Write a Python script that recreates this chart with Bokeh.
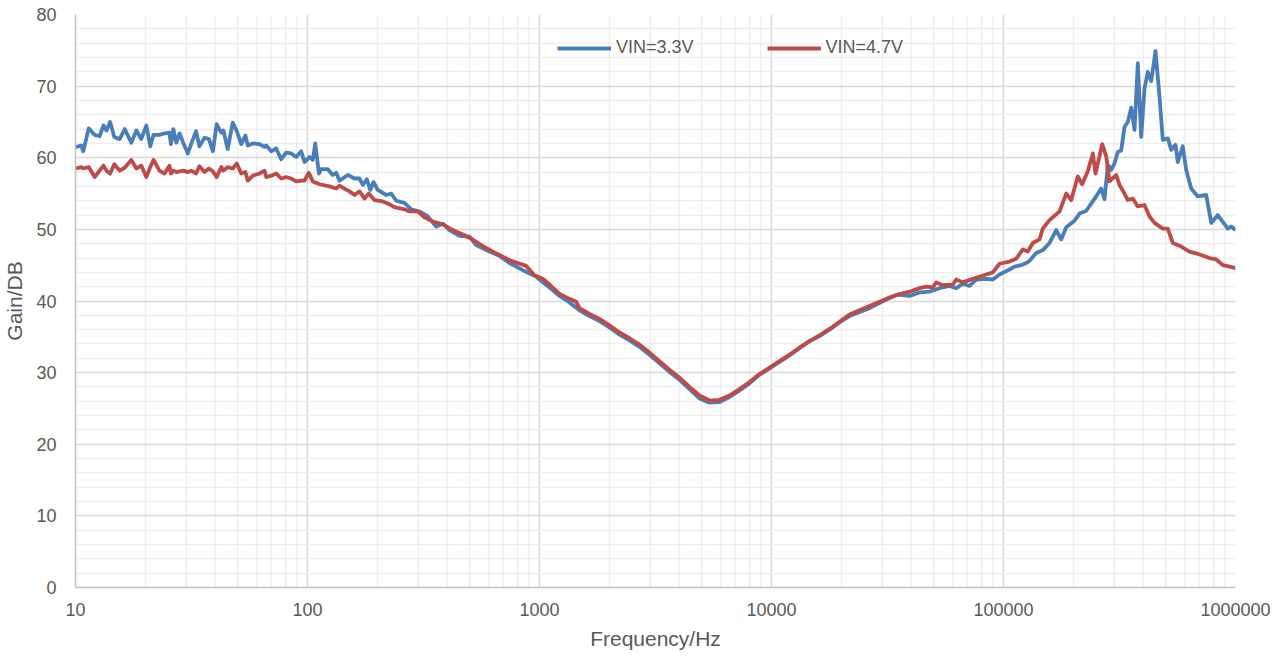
from bokeh.plotting import figure
from bokeh.models import FixedTicker, Legend, LegendItem, PrintfTickFormatter, Range1d
from bokeh.embed import file_html
from bokeh.resources import INLINE

# ---- data ----
freq_33 = [10, 10.6, 10.8, 11.4, 12.1, 12.7, 13.2, 13.6, 14.1, 14.7,
           15.5, 16.3, 17.4, 18.3, 19.2, 20.2, 21.0, 21.7, 23.0, 24.2,
           25.4, 25.8, 26.4, 27.2, 28.1, 29.2, 30.5, 31.5, 33.1, 34.2,
           36.0, 37.6, 39.1, 40.6, 42.5, 43.4, 45.3, 47.6, 49.6, 51.8,
           54.0, 55.3, 58.1, 62.1, 65.3, 66.4, 69.8, 73.3, 77.0, 80.9,
           85.1, 89.4, 93.9, 97.0,
           102, 105.4, 108, 112, 114.6, 122.4, 128.5, 133, 137.4, 149.2,
           159.5, 167.6, 173.2, 180.2, 186.4, 192.6, 200.9, 218.4, 229.5, 241.2,
           261.8, 279.9, 304, 330, 358.7, 383, 409.3, 451.9, 499.4, 533.3,
           608.8, 672.4, 742.5, 847.2, 967.9, 1000, 1104, 1220, 1347, 1487,
           1643, 1814, 2003, 2212, 2443, 2698, 2979, 3290, 3634, 4013,
           4432, 4894, 5405, 5969, 6592, 7280, 8039, 8878, 9804, 10827,
           11957, 13204, 14582, 16104, 17783, 19639, 21689, 26451, 31716, 35030,
           39339, 43447, 47973, 52978, 58508, 62530, 66780, 71350, 76260, 84220,
           89920, 96120, 106150, 111540, 119220, 125250, 129450, 138300, 147700, 157900,
           168700, 177300, 186400, 202300, 212600, 227300, 238800, 250900, 263600, 272500,
           281600, 291200, 300900, 310900, 321600, 332300, 343400, 355200, 367000, 379300,
           392200, 405300, 418800, 433200, 452100, 470400, 486000, 510800, 528200, 551300,
           564000, 592600, 613100, 644200, 688100, 747600, 786000, 838900, 926400, 958300,
           1000000]
gain_33 = [61.5, 61.7, 60.9, 64.1, 63.2, 63.0, 64.5, 63.8, 65.0, 62.9,
           62.6, 64.0, 62.1, 63.8, 62.6, 64.5, 61.6, 63.2, 63.2, 63.4,
           63.5, 61.9, 64.0, 62.1, 63.4, 62.0, 60.6, 61.9, 63.7, 61.6,
           62.8, 62.6, 60.9, 64.7, 63.5, 63.8, 61.2, 64.9, 63.7, 61.9,
           63.1, 61.7, 62.0, 61.9, 61.5, 61.7, 60.9, 61.3, 59.8, 60.7,
           60.6, 60.1, 60.9, 59.4,
           60.1, 59.7, 62.0, 57.8, 58.4, 58.4, 57.6, 57.9, 56.8, 57.6,
           57.1, 57.1, 56.2, 57.0, 55.5, 56.6, 55.5, 54.8, 55.0, 54.0,
           53.7, 52.8, 52.5, 51.8, 50.4, 50.8, 49.9, 49.1, 49.0, 47.8,
           46.9, 46.3, 45.3, 44.3, 43.4, 43.0, 41.9, 40.7, 39.8, 38.7,
           37.9, 37.2, 36.3, 35.3, 34.5, 33.6, 32.5, 31.3, 30.1, 29.0,
           27.7, 26.4, 25.8, 25.9, 26.6, 27.5, 28.5, 29.7, 30.6, 31.5,
           32.4, 33.4, 34.4, 35.1, 36.0, 37.0, 37.9, 39.0, 40.3, 40.9,
           40.7, 41.2, 41.3, 41.8, 42.1, 41.8, 42.4, 42.1, 43.0, 43.1,
           43.0, 43.7, 44.4, 44.8, 45.0, 45.3, 45.6, 46.7, 47.1, 48.1,
           49.9, 48.6, 50.3, 51.2, 52.2, 52.6, 53.6, 54.6, 55.7, 54.2,
           59.0, 58.3, 59.2, 60.8, 61.0, 64.3, 65.0, 67.0, 63.9, 73.2,
           62.9, 69.7, 72.0, 70.7, 74.9, 68.5, 62.5, 62.7, 61.1, 61.8,
           59.4, 61.6, 58.3, 55.7, 54.6, 54.8, 50.9, 52.0, 50.1, 50.4,
           49.9]

freq_47 = [10, 10.6, 10.8, 11.4, 12.1, 12.7, 13.2, 13.6, 14.1, 14.7,
           15.5, 16.3, 17.4, 18.3, 19.2, 20.2, 21.0, 21.7, 23.0, 24.2,
           25.4, 25.8, 26.4, 27.2, 28.1, 29.2, 30.5, 31.5, 33.1, 34.2,
           36.0, 37.6, 39.1, 40.6, 42.5, 43.4, 45.3, 47.6, 49.6, 51.8,
           54.0, 55.3, 58.1, 62.1, 65.3, 66.4, 69.8, 73.3, 77.0, 80.9,
           85.1, 89.4, 93.9, 97.0,
           101.3, 105.4, 112.7, 124.4, 133, 137.4, 144.4, 151.7, 159.5, 167.6,
           176.1, 183.8, 194.5, 211.2, 225.7, 237.1, 261.8, 275.3, 298.9, 319.4,
           346.9, 383, 422.9, 467, 507.8, 560.7, 629.2, 694.8, 755.1, 876.2,
           951.5, 1033, 1104, 1220, 1347, 1439, 1487, 1643, 1814, 2003,
           2212, 2443, 2698, 2979, 3290, 3634, 4013, 4432, 4894, 5405,
           5969, 6592, 7280, 8039, 8878, 9804, 10827, 11957, 13204, 14582,
           16104, 17783, 19639, 21689, 26451, 31716, 35030, 39339, 43447, 46440,
           49590, 51280, 54760, 60470, 62530, 66780, 73740, 84220, 89920, 96120,
           106150, 113420, 121130, 127260, 133770, 142950, 147700, 157900, 174300, 186400,
           195800, 209100, 218300, 230900, 242700, 249300, 266300, 277200, 286300, 305900,
           316200, 332300, 343400, 360800, 379300, 405300, 426000, 447700, 486000, 510800,
           536700, 583300, 633400, 699600, 772600, 825700, 881800, 942200, 1000000]
gain_47 = [58.5, 58.7, 58.5, 58.7, 57.3, 58.2, 58.9, 58.2, 57.8, 59.1,
           58.2, 58.6, 59.7, 58.5, 58.9, 57.3, 58.7, 59.7, 58.2, 57.8,
           58.9, 57.8, 58.2, 58.0, 58.1, 58.2, 58.0, 58.2, 57.8, 58.8,
           58.0, 58.5, 58.1, 57.3, 58.7, 58.2, 58.7, 58.5, 59.2, 57.8,
           58.0, 56.8, 57.5, 57.8, 58.2, 57.3, 57.5, 57.8, 57.1, 57.3,
           57.1, 56.7, 56.8, 56.8,
           57.9, 56.7, 56.3, 56.0, 55.7, 56.1, 55.7, 55.3, 54.8, 55.3,
           54.3, 55.0, 54.1, 53.9, 53.5, 53.1, 52.8, 52.5, 52.5, 51.7,
           51.1, 50.7, 49.9, 49.3, 48.7, 47.8, 46.9, 46.2, 45.6, 44.9,
           43.6, 43.1, 42.3, 41.0, 40.3, 39.9, 39.0, 38.2, 37.5, 36.6,
           35.6, 34.8, 33.9, 32.8, 31.6, 30.4, 29.3, 28.0, 26.8, 26.1,
           26.2, 26.8, 27.7, 28.7, 29.8, 30.7, 31.6, 32.5, 33.5, 34.4,
           35.2, 36.1, 37.1, 38.1, 39.3, 40.4, 40.9, 41.3, 41.8, 42.0,
           41.9, 42.6, 42.2, 42.3, 43.0, 42.6, 43.1, 43.7, 44.0, 45.2,
           45.5, 45.9, 47.2, 46.9, 48.1, 48.6, 50.1, 51.3, 52.5, 55.0,
           54.1, 57.4, 56.3, 58.1, 60.6, 57.8, 61.9, 60.2, 56.7, 57.6,
           56.2, 55.0, 54.1, 54.3, 53.2, 53.4, 51.8, 50.9, 50.1, 50.1,
           48.1, 47.6, 46.9, 46.5, 46.0, 45.8, 45.0, 44.8, 44.6]

series_labels = ["VIN=3.3V", "VIN=4.7V"]
x_ticks = [10, 100, 1000, 10000, 100000, 1000000]
y_ticks = [0, 10, 20, 30, 40, 50, 60, 70, 80]
x_minor = [k * d for d in [10, 100, 1000, 10000, 100000] for k in range(2, 10)]
y_minor = [v for v in range(0, 81, 2) if v % 10 != 0]

FONT = "Liberation Sans"
TEXT = "#595959"
BLUE = "#4a7ebb"
RED = "#be4b48"

p = figure(x_axis_type="log", x_range=Range1d(10, 1000000), y_range=Range1d(0, 80),
           frame_width=1160, frame_height=573,
           min_border_left=75, min_border_top=14, min_border_right=40, min_border_bottom=10,
           output_backend="svg", toolbar_location=None, background_fill_color="white",
           border_fill_color="white")
p.outline_line_color = None

p.xaxis.ticker = FixedTicker(ticks=x_ticks, minor_ticks=x_minor)
p.yaxis.ticker = FixedTicker(ticks=y_ticks, minor_ticks=y_minor)
p.xaxis.formatter = PrintfTickFormatter(format="%d")

for ax in (p.xaxis[0], p.yaxis[0]):
    ax.axis_line_color = "#bfbfbf"
    ax.axis_line_width = 1.5
    ax.major_tick_line_color = None
    ax.minor_tick_line_color = None
    ax.major_label_text_font = FONT
    ax.major_label_text_font_size = "18px"
    ax.major_label_text_color = TEXT
    ax.axis_label_text_font = FONT
    ax.axis_label_text_font_size = "21px"
    ax.axis_label_text_font_style = "normal"
    ax.axis_label_text_color = TEXT

p.xaxis.axis_label = "Frequency/Hz"
p.yaxis.axis_label = "Gain/DB"
p.xaxis.major_label_standoff = 9
p.xaxis.axis_label_standoff = 8
p.yaxis.major_label_standoff = 13
p.yaxis.axis_label_standoff = 7

for g in (p.xgrid[0], p.ygrid[0]):
    g.grid_line_color = "#d9d9d9"
    g.grid_line_width = 1.5
    g.minor_grid_line_color = "#eeeeee"
    g.minor_grid_line_width = 1.5

r1 = p.line(freq_33, gain_33, line_color=BLUE, line_width=3.8, line_join="round")
r2 = p.line(freq_47, gain_47, line_color=RED, line_width=3.8, line_join="round")

legend = Legend(items=[LegendItem(label=series_labels[0], renderers=[r1]),
                       LegendItem(label=series_labels[1], renderers=[r2])],
                orientation="horizontal", location=(482, 529),
                background_fill_alpha=0, border_line_color=None,
                glyph_width=54, glyph_height=20, label_standoff=5, spacing=73,
                padding=0, margin=0, label_height=20,
                label_text_font=FONT, label_text_font_size="18px", label_text_color=TEXT)
p.add_layout(legend)

open("out.html", "w").write(file_html(p, INLINE))
